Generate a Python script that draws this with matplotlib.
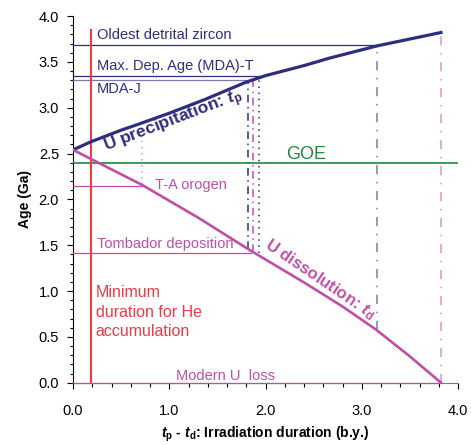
import matplotlib
matplotlib.use("Agg")
import matplotlib.pyplot as plt
from matplotlib.ticker import MultipleLocator, FormatStrFormatter

plt.rcParams["font.family"] = ["Liberation Sans", "DejaVu Sans"]
plt.rcParams["mathtext.fontset"] = "custom"
plt.rcParams["mathtext.rm"] = "Liberation Sans"
plt.rcParams["mathtext.it"] = "Liberation Sans:italic"
plt.rcParams["mathtext.bf"] = "Liberation Sans:bold"
plt.rcParams["mathtext.bfit"] = "Liberation Sans:italic:bold"

# U precipitation curve (t_p)
precip_x = [0.0, 0.19, 0.5, 0.68, 1.0, 1.37, 1.80, 2.0, 2.40, 2.66, 3.16, 3.82]
precip_y = [2.54, 2.63, 2.755, 2.82, 2.94, 3.09, 3.28, 3.35, 3.46, 3.54, 3.675, 3.82]

# U dissolution curve (t_d)
dissol_x = [0.0, 0.72, 1.3, 1.83, 2.42, 2.8, 3.145, 3.5, 3.82]
dissol_y = [2.54, 2.156, 1.80, 1.45, 1.08, 0.83, 0.58, 0.285, 0.0]

# reference ages (Ga): label, age, end of line on x
ref_labels = ["Oldest detrital zircon", "Max. Dep. Age (MDA)-T", "MDA-J",
              "T-A orogen", "Tombador deposition", "Modern U  loss"]
ref_ages = [3.68, 3.35, 3.30, 2.145, 1.418, 0.0]
ref_ends = [3.16, 1.93, 1.81, 0.72, 1.85, 3.82]

goe_age = 2.40
min_duration = 0.19

# vertical drop lines: x, y from, y to
drop_x = [0.72, 1.82, 1.87, 1.93, 3.16, 3.82]
drop_lo = [2.156, 1.46, 1.43, 1.41, 0.58, 0.0]
drop_hi = [2.70, 3.28, 3.30, 3.33, 3.675, 3.82]

navy = "#2e2d7e"
navy_light = "#7a7aae"
magenta = "#c04ea6"
pink = "#dc92d0"
green = "#1d8a3c"
red = "#ee3a44"

fig = plt.figure(figsize=(4.71, 4.45), dpi=100)
ax = fig.add_axes([0.155, 0.14, 0.818, 0.824])

# drop lines
drop_styles = [
    (pink, (0, (1, 3))),
    (navy, (0, (5, 3, 1, 3))),
    (magenta, (0, (5, 3, 1, 3))),
    (navy, (0, (1, 3))),
    (navy_light, (0, (6, 5, 1, 5))),
    (pink, (0, (6, 5, 1, 5))),
]
for xv, lo, hi, (c, ls) in zip(drop_x, drop_lo, drop_hi, drop_styles):
    ax.plot([xv, xv], [lo, hi], color=c, lw=1.1, linestyle=ls, zorder=2)

# horizontal reference lines
ref_colors = [navy, navy, navy_light, magenta, magenta, magenta]
for age, end, c in zip(ref_ages, ref_ends, ref_colors):
    ax.plot([0, end], [age, age], color=c, lw=0.9, zorder=3, clip_on=False)
ax.axhline(goe_age, color=green, lw=1.2, zorder=3)

# minimum duration
ax.plot([min_duration, min_duration], [0, 3.85], color=red, lw=1.5, zorder=4)

# main curves
ax.plot(precip_x, precip_y, color=navy, lw=2.3, zorder=5)
ax.plot(dissol_x, dissol_y, color=magenta, lw=1.9, zorder=5)

# texts
fs = 10.5
ax.text(0.245, 3.79, ref_labels[0], color=navy, fontsize=fs, va="center")
ax.text(0.245, 3.46, ref_labels[1], color=navy, fontsize=fs, va="center")
ax.text(0.245, 3.20, ref_labels[2], color=navy, fontsize=fs, va="center")
ax.text(0.85, 2.16, ref_labels[3], color=magenta, fontsize=fs, va="center")
ax.text(0.245, 1.51, ref_labels[4], color=magenta, fontsize=fs, va="center")
ax.text(1.07, 0.07, ref_labels[5], color=magenta, fontsize=fs, va="center")
ax.text(2.42, 2.49, "GOE", color=green, fontsize=13, ha="center", va="center")
ax.text(0.235, 0.77, "Minimum\nduration for He\naccumulation", color=red,
        fontsize=11.5, va="center", linespacing=1.36)
ax.text(1.04, 2.84, r"U precipitation: $\mathbfit{t}_\mathbf{p}$", color=navy,
        fontsize=12.5, fontweight="bold", rotation=21, ha="center",
        va="center", rotation_mode="anchor")
ax.text(2.56, 1.13, r"U dissolution: $\mathbfit{t}_\mathbf{d}$", color=magenta,
        fontsize=12, fontweight="bold", rotation=-34, ha="center",
        va="center", rotation_mode="anchor")

# axes
ax.set_xlim(0, 4.0)
ax.set_ylim(0, 4.0)
ax.spines["top"].set_visible(False)
ax.spines["right"].set_visible(False)
ax.spines["bottom"].set_color("#777777")
ax.xaxis.set_major_locator(MultipleLocator(1.0))
ax.xaxis.set_minor_locator(MultipleLocator(0.2))
ax.yaxis.set_major_locator(MultipleLocator(0.5))
ax.yaxis.set_minor_locator(MultipleLocator(0.1))
ax.xaxis.set_major_formatter(FormatStrFormatter("%.1f"))
ax.yaxis.set_major_formatter(FormatStrFormatter("%.1f"))
ax.tick_params(axis="x", which="major", direction="out", length=4, width=0.8,
               pad=11, labelsize=10.5)
ax.tick_params(axis="x", which="minor", direction="out", length=3, width=0.8)
ax.tick_params(axis="y", which="major", direction="out", length=4, width=0.8,
               pad=6, labelsize=10.5)
ax.tick_params(axis="y", which="minor", direction="out", length=2.5, width=0.8)

ax.set_xlabel(r"$\mathbfit{t}_\mathbf{p}$ - $\mathbfit{t}_\mathbf{d}$: Irradiation duration (b.y.)",
              fontsize=10, fontweight="bold", labelpad=5.5)
ax.set_ylabel("Age (Ga)", fontsize=10, fontweight="bold", labelpad=5)

fig.savefig("out.png", dpi=100)
